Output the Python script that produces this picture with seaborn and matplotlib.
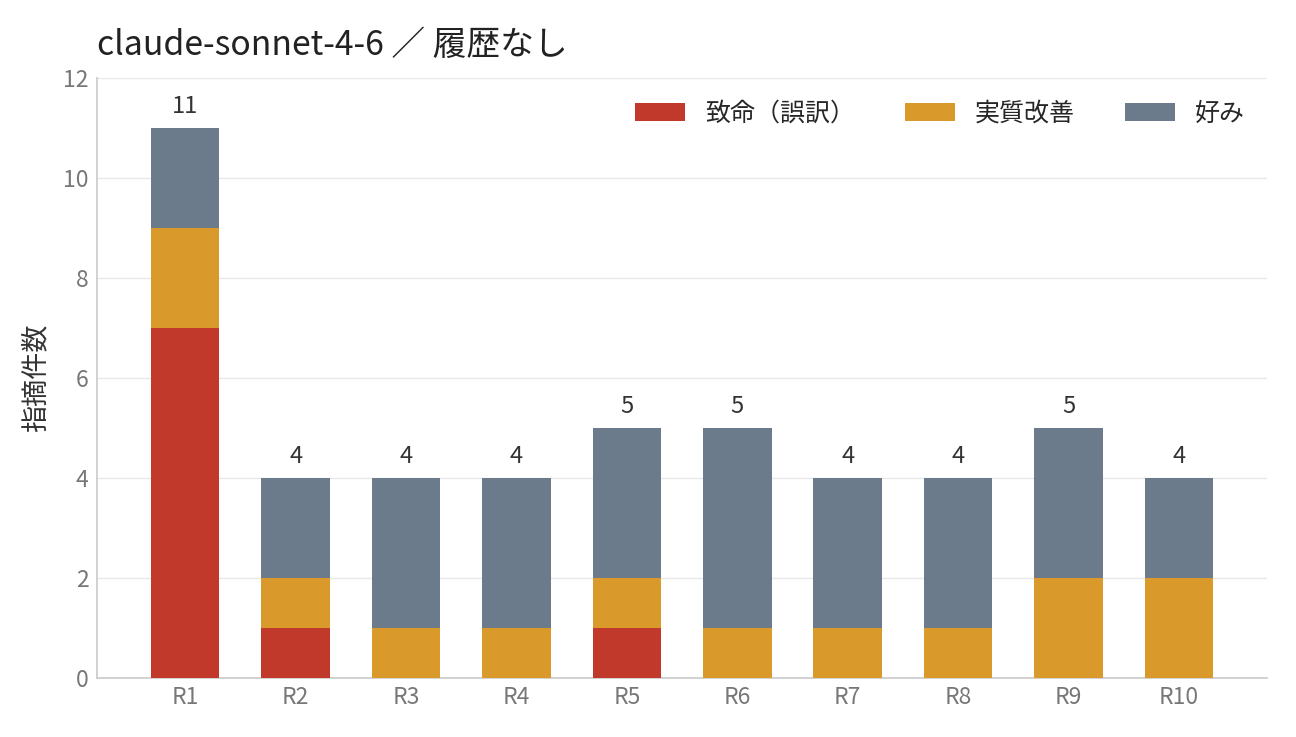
import numpy as np
import pandas as pd
import matplotlib
matplotlib.use("Agg")
import matplotlib.pyplot as plt
import seaborn as sns

rounds = ["R1", "R2", "R3", "R4", "R5", "R6", "R7", "R8", "R9", "R10"]
fatal = [7, 1, 0, 0, 1, 0, 0, 0, 0, 0]
improve = [2, 1, 1, 1, 1, 1, 1, 1, 2, 2]
pref = [2, 2, 3, 3, 3, 4, 3, 3, 3, 2]

labels = ["致命（誤訳）", "実質改善", "好み"]
colors = ["#c0392b", "#d9992b", "#6b7b8c"]

sns.set_theme(style="white")
plt.rcParams["font.family"] = ["Noto Sans CJK JP", "DejaVu Sans"]

df = pd.DataFrame({"round": rounds, "fatal": fatal, "improve": improve, "pref": pref})

fig = plt.figure(figsize=(12.96, 7.37), dpi=100)
ax = fig.add_axes([0.0748, 0.080, 0.903, 0.814])

bottom = np.zeros(len(rounds))
for col, lab, c in zip(["fatal", "improve", "pref"], labels, colors):
    sns.barplot(data=df, x="round", y=col, color=c, label=lab, bottom=bottom,
                width=0.62, saturation=1, linewidth=0, ax=ax, zorder=3)
    bottom = bottom + df[col].values

totals = bottom
for i, t in enumerate(totals):
    ax.text(i, t + 0.2, f"{int(t)}", ha="center", va="bottom", fontsize=17, color="#333333")

ax.set_xlim(-0.8, 9.8)
ax.set_ylim(0, 12)
ax.set_yticks(range(0, 13, 2))
ax.yaxis.grid(True, color="#e8e8e8", linewidth=1, zorder=0)
ax.set_axisbelow(True)
for s in ["top", "right"]:
    ax.spines[s].set_visible(False)
ax.spines["left"].set_color("#cccccc")
ax.spines["bottom"].set_color("#cccccc")
ax.tick_params(axis="both", length=0, labelsize=16.5, colors="#777777", pad=6)
ax.set_xlabel("")
ax.set_ylabel("指摘件数", fontsize=19.5, color="#333333", labelpad=10)
ax.set_title("claude-sonnet-4-6 ／ 履歴なし", loc="left", fontsize=24.3, color="#222222", pad=17, x=0.0)

ax.legend(loc="upper right", ncol=3, frameon=False, fontsize=18, handlelength=2.0,
          handleheight=0.72, columnspacing=2.0, handletextpad=0.8, bbox_to_anchor=(1.0, 1.0))

fig.savefig("out.png", dpi=100)
